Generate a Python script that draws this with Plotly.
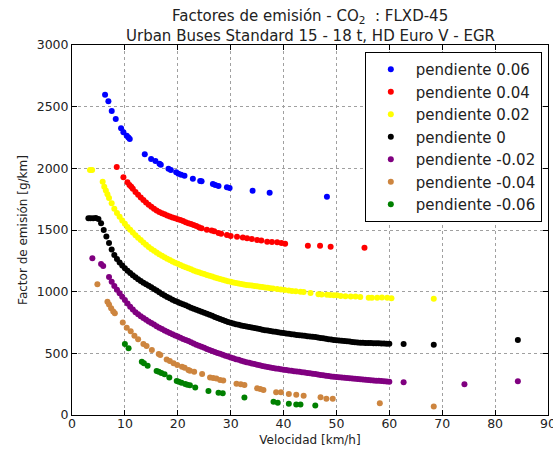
import plotly.graph_objects as go

# ---------------- data ----------------
x_p006 = [6.25, 6.88, 7.51, 8.27, 9.28, 9.72, 10.35, 10.67, 10.92, 13.76, 14.96, 15.78, 16.54, 16.79,
          18.24, 18.69, 19.7, 20.14, 20.64, 21.27, 22.85, 24.24, 24.5, 26.64, 27.08, 27.7, 29.29, 29.8,
          34.15, 37.37, 48.2]
y_p006 = [2597, 2543, 2465, 2400, 2324, 2292, 2265, 2251, 2238, 2114, 2076, 2060, 2038, 2030,
          1997, 1986, 1968, 1957, 1948, 1940, 1916, 1897, 1895, 1873, 1865, 1857, 1846, 1840,
          1819, 1802, 1770]

x_p004 = [8.46, 9.72, 10.48, 10.86, 11.2, 11.5, 12.0,
          12.5, 13.0, 13.5, 14.0, 14.5, 15.0, 15.5, 16.0, 16.5, 17.0, 17.5, 18.0, 18.5, 19.0, 19.5,
          20.0, 20.5, 21.0, 21.5, 22.0, 22.5, 23.0, 23.5, 24.0, 24.5,
          25.5, 26.4, 26.9, 27.7, 28.2, 29.3, 30.0, 31.2, 32.3, 33.1, 34.0, 35.0, 35.8, 36.9, 37.8,
          38.8, 39.6, 40.3, 44.6, 46.9, 48.9, 55.3]
y_p004 = [2011, 1927, 1887, 1865, 1850, 1835, 1808,
          1786, 1763, 1743, 1723, 1705, 1688, 1672, 1658, 1646, 1636, 1627, 1618, 1610, 1602, 1595,
          1588, 1581, 1572, 1563, 1554, 1548, 1541, 1532, 1523, 1514,
          1503, 1495, 1490, 1476, 1470, 1459, 1452, 1446, 1440, 1433, 1428, 1419, 1414, 1405, 1402,
          1400, 1395, 1389, 1373, 1373, 1365, 1357]

x_p002 = [3.4, 3.8, 5.8, 6.1, 6.4, 6.7, 7.0, 7.5, 8.0, 8.5, 9.0, 9.5, 10.0, 10.5, 11.0, 11.5, 12.0,
          12.5, 13.0, 13.5, 14.0, 14.5, 15.0, 15.5, 16.0, 16.5, 17.0, 17.5, 18.0, 18.5, 19.0, 19.5,
          20.0, 20.5, 21.0, 21.5, 22.0, 22.5, 23.0, 23.5, 24.0, 24.5, 25.0, 25.5, 26.0, 26.5, 27.0,
          27.5, 28.0, 28.5, 29.0, 29.5, 30.0, 30.5, 31.0, 31.5, 32.0, 32.5, 33.0, 33.5, 34.0, 34.5,
          35.0, 35.5, 36.0, 36.5, 37.0, 37.5, 38.0, 38.8, 39.5, 40.2, 41.0, 41.6, 42.3, 43.2, 43.8,
          45.1, 46.6, 47.2, 48.2, 48.8, 49.5, 50.1, 50.8, 51.7, 52.7, 53.6, 54.5, 56.1, 56.7, 57.7,
          58.6, 59.6, 60.4, 68.4]
y_p002 = [1986, 1986, 1892, 1851, 1820, 1790, 1760, 1716, 1672, 1637, 1608, 1578, 1550, 1525, 1502,
          1480, 1458, 1437, 1418, 1399, 1380, 1362, 1346, 1331, 1317, 1304, 1291, 1279, 1267, 1256,
          1245, 1235, 1226, 1217, 1207, 1198, 1189, 1181, 1172, 1164, 1157, 1150, 1143, 1136, 1129,
          1122, 1115, 1109, 1103, 1097, 1091, 1085, 1080, 1075, 1070, 1066, 1062, 1058, 1055, 1052,
          1049, 1046, 1043, 1040, 1037, 1034, 1031, 1028, 1026, 1021, 1018, 1014, 1010, 1006, 1003,
          1000, 998, 990, 979, 978, 976, 973, 970, 970, 965, 962, 960, 960, 957, 951, 951, 951, 953,
          951, 946, 943]

x_p000 = [3.1, 3.5, 4.0, 4.5, 5.0, 5.5, 6.0, 6.5, 7.0, 7.5, 8.0, 8.5, 9.0, 9.5, 10.0, 10.5, 11.0,
          11.5, 12.0, 12.5, 13.0, 13.5, 14.0, 14.5, 15.0, 15.5, 16.0, 16.5, 17.0, 17.5, 18.0, 18.5,
          19.0, 19.5, 20.0, 20.5, 21.0, 21.5, 22.0, 22.5, 23.0, 23.5, 24.0, 24.5, 25.0, 25.5, 26.0,
          26.5, 27.0, 27.5, 28.0, 28.5, 29.0, 29.5, 30.0, 30.5, 31.0, 31.5, 32.0, 32.5, 33.0, 33.5,
          34.0, 34.5, 35.0, 35.5, 36.0, 36.5, 37.0, 37.5, 38.0, 38.5, 39.0, 39.5, 40.0, 40.5, 41.0,
          41.5, 42.0, 42.5, 43.0, 43.5, 44.0, 44.5, 45.0, 45.5, 46.0, 46.5, 47.0, 47.5, 48.0, 48.5,
          49.0, 49.5, 50.0, 50.5, 51.0, 51.5, 52.0, 52.5, 53.0, 53.5, 54.0, 54.5, 55.0, 55.5, 56.0,
          56.5, 57.0, 57.5, 58.0, 58.5, 59.0, 59.5, 60.0, 62.7, 68.4, 84.3]
y_p000 = [1595, 1595, 1595, 1597, 1590, 1555, 1500, 1447, 1395, 1342, 1298, 1265, 1236, 1212, 1190,
          1170, 1151, 1133, 1116, 1101, 1087, 1073, 1060, 1047, 1035, 1022, 1010, 996, 982, 969, 957,
          946, 935, 925, 916, 907, 898, 889, 879, 870, 861, 853, 845, 837, 829, 820, 812, 804, 795,
          787, 779, 771, 763, 755, 748, 742, 736, 731, 726, 721, 717, 713, 709, 705, 701, 697, 692,
          688, 685, 681, 677, 674, 670, 667, 664, 661, 658, 655, 652, 649, 647, 644, 642, 639, 637,
          634, 632, 629, 625, 622, 618, 615, 612, 609, 607, 604, 602, 599, 597, 595, 592, 590, 588,
          586, 585, 584, 583, 583, 582, 582, 581, 580, 579, 578, 577, 576, 569, 608]

x_m002 = [3.85, 5.5, 5.9, 7.0, 7.5, 8.0, 8.5, 9.0, 9.5, 10.0, 10.5, 11.0, 11.5, 12.0, 12.5, 13.0,
          13.5, 14.0, 14.5, 15.0, 15.5, 16.0, 16.5, 17.0, 17.5, 18.0, 18.5, 19.0, 19.5, 20.0, 20.5,
          21.0, 21.5, 22.0, 22.5, 23.0, 23.5, 24.0, 24.5, 25.0, 25.5, 26.0, 26.5, 27.0, 27.5, 28.0,
          28.5, 29.0, 29.5, 30.0, 30.5, 31.0, 31.5, 32.0, 32.5, 33.0, 33.5, 34.0, 34.5, 35.0, 35.5,
          36.0, 36.5, 37.0, 37.5, 38.0, 38.5, 39.0, 39.5, 40.0, 40.5, 41.0, 41.5, 42.0, 42.5, 43.0,
          43.5, 44.0, 44.5, 45.0, 45.5, 46.0, 46.5, 47.0, 47.5, 48.0, 48.5, 49.0, 49.5, 50.0, 50.5,
          51.0, 51.5, 52.0, 52.5, 53.0, 53.5, 54.0, 54.5, 55.0, 55.5, 56.0, 56.5, 57.0, 57.5, 58.0,
          58.5, 59.0, 59.5, 60.0, 62.7, 74.2, 84.3]
y_m002 = [1270, 1224, 1208, 1118, 1080, 1046, 1016, 988, 958, 932, 904, 878, 856, 834, 816, 800,
          786, 772, 759, 746, 733, 720, 708, 697, 686, 675, 665, 655, 645, 636, 626, 617, 608, 599,
          590, 580, 570, 562, 553, 545, 536, 528, 519, 511, 503, 496, 488, 481, 474, 467, 460, 453,
          447, 440, 434, 428, 423, 418, 413, 408, 403, 398, 394, 390, 386, 382, 378, 374, 370, 367,
          364, 361, 358, 355, 352, 350, 347, 344, 341, 338, 335, 332, 329, 325, 322, 319, 316, 313,
          311, 308, 306, 304, 302, 299, 297, 295, 293, 291, 289, 287, 286, 284, 282, 280, 278, 277,
          275, 274, 272, 270, 265, 249, 273]

x_m004 = [4.8, 6.7, 7.0, 7.4, 7.8, 8.1, 9.6, 10.35, 11.1, 11.8, 12.5, 13.5, 14.1, 15.1, 16.4, 16.7,
          17.9, 18.5, 19.2, 19.9, 20.8, 21.3, 22.0, 22.3, 23.1, 24.6, 26.1, 26.7, 27.3, 28.0, 28.6,
          31.1, 31.9, 32.6, 35.0, 35.6, 36.2, 38.6, 39.5, 41.0, 42.4, 43.8, 47.0, 48.1, 49.3, 58.2,
          68.4]
y_m004 = [1060, 919, 895, 865, 840, 824, 749, 708, 680, 643, 615, 576, 560, 527, 495, 486,
          451, 438, 419, 405, 392, 384, 365, 359, 350, 332, 305, 300, 295, 284, 280,
          254, 249, 243, 216, 210, 203, 184, 184, 170, 165, 157, 143, 132, 132, 95,
          68]

x_m006 = [10.0, 10.7, 13.2, 13.6, 14.3, 16.0, 16.4, 16.9, 17.5, 18.4, 19.8, 20.2, 20.7, 21.4, 21.8,
          22.3, 23.3, 25.8, 27.7, 28.5, 32.6, 38.1, 38.9, 41.0, 42.4, 43.2, 46.0]
y_m006 = [576, 541, 432, 420, 400, 357, 350, 340, 330, 305, 276, 270, 262, 251, 246,
          241, 222, 195, 181, 176, 141, 108, 100, 92, 86, 86, 77]

series_names = ["pendiente 0.06", "pendiente 0.04", "pendiente 0.02", "pendiente 0",
                "pendiente -0.02", "pendiente -0.04", "pendiente -0.06"]
series_x = [x_p006, x_p004, x_p002, x_p000, x_m002, x_m004, x_m006]
series_y = [y_p006, y_p004, y_p002, y_p000, y_m002, y_m004, y_m006]
series_colors = ["#0000ff", "#ff0000", "#ffff00", "#000000", "#800080", "#cd853f", "#008000"]

x_ticks = [0, 10, 20, 30, 40, 50, 60, 70, 80, 90]
y_ticks = [0, 500, 1000, 1500, 2000, 2500, 3000]

title_line1 = "Factores de emisión - CO<sub>2</sub>  : FLXD-45"
title_line2 = "Urban Buses Standard 15 - 18 t, HD Euro V - EGR"
x_title = "Velocidad [km/h]"
y_title = "Factor de emisión [g/km]"

# ---------------- figure ----------------
fig = go.Figure()
for name, xs, ys, col in zip(series_names, series_x, series_y, series_colors):
    fig.add_trace(go.Scatter(
        x=xs, y=ys, mode="markers", name=name,
        marker=dict(color=col, size=6, line=dict(width=0)),
    ))

font_family = "DejaVu Sans"
text_color = "#222222"
axis_common = dict(
    showline=True, linecolor="black", linewidth=1, mirror="allticks",
    ticks="inside", ticklen=5, tickcolor="black",
    showgrid=True, gridcolor="#a0a0a0", griddash="dot", gridwidth=1,
    zeroline=False,
    tickfont=dict(family=font_family, size=12.5, color=text_color),
)

fig.update_layout(
    width=553, height=451,
    margin=dict(l=72, r=5, t=45, b=36),
    paper_bgcolor="white", plot_bgcolor="white",
    font=dict(family=font_family, color=text_color),
    xaxis=dict(range=[0, 90], tickvals=x_ticks, ticklabelstandoff=-3, **axis_common,
               title=dict(text=x_title, standoff=5,
                          font=dict(family=font_family, size=12, color=text_color))),
    yaxis=dict(range=[0, 3000], tickvals=y_ticks, **axis_common,
               title=dict(text=y_title, standoff=6,
                          font=dict(family=font_family, size=12, color=text_color))),
    legend=dict(
        x=0.987, y=0.981, xanchor="right", yanchor="top",
        bgcolor="white", bordercolor="black", borderwidth=1,
        font=dict(family=font_family, size=15, color=text_color),
        itemwidth=40,
    ),
    showlegend=True,
)

# two-line title as annotations (centred on the plot area)
fig.add_annotation(text=title_line1, xref="paper", yref="paper", x=0.5, y=1.0757,
                   xanchor="center", yanchor="middle", showarrow=False,
                   font=dict(family=font_family, size=15, color=text_color))
fig.add_annotation(text=title_line2, xref="paper", yref="paper", x=0.5, y=1.025,
                   xanchor="center", yanchor="middle", showarrow=False,
                   font=dict(family=font_family, size=15, color=text_color))
# last x tick label, clipped by the page edge as in the reference
fig.add_annotation(text="90", xref="x", yref="paper", x=90, y=-0.0225,
                   xanchor="center", yanchor="middle", showarrow=False,
                   font=dict(family=font_family, size=12.5, color=text_color))

fig.write_html("out.html")
